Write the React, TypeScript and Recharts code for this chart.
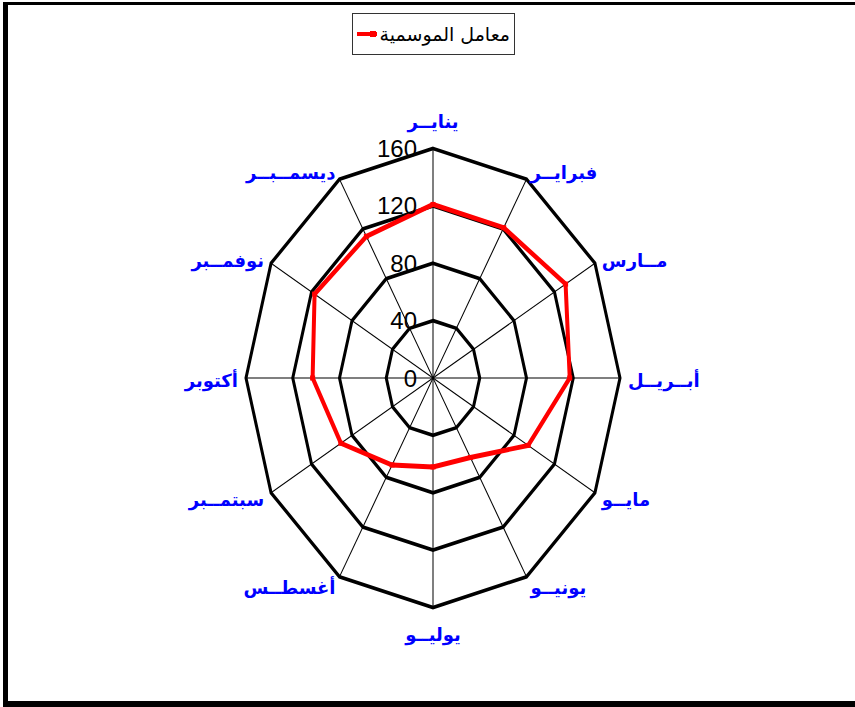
import React from 'react'
import { RadarChart, Radar, PolarGrid, PolarAngleAxis, PolarRadiusAxis } from 'recharts'

const months = [
  'ينايــر',
  'فبرايــر',
  'مــارس',
  'أبــريــل',
  'مايــو',
  'يونيــو',
  'يوليــو',
  'أغسطــس',
  'سبتمــبر',
  'أكتوبر',
  'نوفمــبر',
  'ديسمــبــر',
]
const seasonalIndex = [121, 121, 131, 117, 94, 64, 62, 70, 91, 103, 117, 114]
const radiusTicks = [0, 40, 80, 120, 160]
const SERIES_NAME = 'معامل الموسمية'

// the original plot is stretched vertically (ellipse), so the svg is scaled in Y
const CX = 433
const CY = 378
const R = 187
const S = 229.5 / 187

const data = months.map((month, i) => ({ month, value: seasonalIndex[i] }))

const RadiusTick = ({ x, y, payload }: any) => (
  <g transform={`translate(${x},${y}) scale(1,${1 / S})`}>
    <text
      x={-16}
      y={0}
      textAnchor="end"
      dominantBaseline="central"
      fontSize={24}
      fontFamily="'Liberation Sans', Arial, sans-serif"
      fill="#000"
    >
      {payload.value}
    </text>
  </g>
)

const MonthTick = ({ x, y, payload, textAnchor }: any) => {
  let dy = 2
  if (textAnchor === 'middle') dy = y < CY ? -17 : 17
  return (
    <g transform={`translate(${x},${y}) scale(1,${1 / S})`}>
      <text
        x={0}
        y={dy}
        textAnchor={textAnchor}
        dominantBaseline="central"
        fontSize={18}
        fontWeight="bold"
        fontFamily="'DejaVu Sans', Arial, sans-serif"
        fill="#0000ff"
      >
        {payload.value}
      </text>
    </g>
  )
}

const SquareDot = (props: any) => {
  const { cx, cy, index } = props
  return (
    <rect
      key={`dot-${index}`}
      x={cx - 2.5}
      y={cy - 2.5 / S}
      width={5}
      height={5 / S}
      fill="#ff0000"
    />
  )
}

export default function App() {
  return (
    <div
      style={{
        position: 'relative',
        width: 855,
        height: 707,
        overflow: 'hidden',
        background: '#fff',
      }}
    >
      <style>{`
        body { margin: 0; }
        .radar-wrap .recharts-surface {
          transform: scaleY(${S});
          transform-origin: ${CX}px ${CY}px;
          overflow: visible;
        }
        .radar-wrap path, .radar-wrap line, .radar-wrap polygon {
          vector-effect: non-scaling-stroke;
        }
      `}</style>

      {/* outer frame: no right edge in the original */}
      <div
        style={{
          position: 'absolute',
          left: 3,
          top: 2,
          width: 900,
          height: 705,
          boxSizing: 'border-box',
          borderLeft: '5px solid #000',
          borderTop: '3px solid #000',
          borderBottom: '6px solid #000',
        }}
      />

      {/* legend */}
      <div
        style={{
          position: 'absolute',
          left: 352,
          top: 13,
          width: 163,
          height: 42,
          boxSizing: 'border-box',
          border: '1px solid #333',
          display: 'flex',
          alignItems: 'center',
          padding: '0 4px',
          gap: 3,
        }}
      >
        <svg width={32} height={10}>
          <line x1={0} y1={5} x2={32} y2={5} stroke="#ff0000" strokeWidth={4} />
          <rect x={13} y={2} width={6} height={6} fill="#ff0000" />
        </svg>
        <span
          style={{
            fontFamily: "'DejaVu Sans', Arial, sans-serif",
            fontSize: 19,
            color: '#000',
            whiteSpace: 'nowrap',
          }}
        >
          {SERIES_NAME}
        </span>
      </div>

      <div className="radar-wrap" style={{ position: 'absolute', left: 0, top: 0 }}>
        <RadarChart
          width={855}
          height={707}
          data={data}
          cx={CX}
          cy={CY}
          outerRadius={R}
          margin={{ top: 0, right: 0, bottom: 0, left: 0 }}
        >
          <PolarGrid gridType="polygon" stroke="#000" strokeWidth={1} />
          <PolarGrid gridType="polygon" radialLines={false} stroke="#000" strokeWidth={3} />
          <PolarAngleAxis
            dataKey="month"
            axisLine={false}
            tickLine={false}
            tick={<MonthTick />}
          />
          <PolarRadiusAxis
            angle={90}
            domain={[0, 160]}
            ticks={radiusTicks as any}
            tickCount={5}
            axisLine={false}
            tickLine={false}
            tick={<RadiusTick />}
          />
          <Radar
            name={SERIES_NAME}
            dataKey="value"
            stroke="#ff0000"
            strokeWidth={4}
            fill="none"
            fillOpacity={0}
            dot={<SquareDot />}
            isAnimationActive={false}
          />
        </RadarChart>
      </div>
    </div>
  )
}
